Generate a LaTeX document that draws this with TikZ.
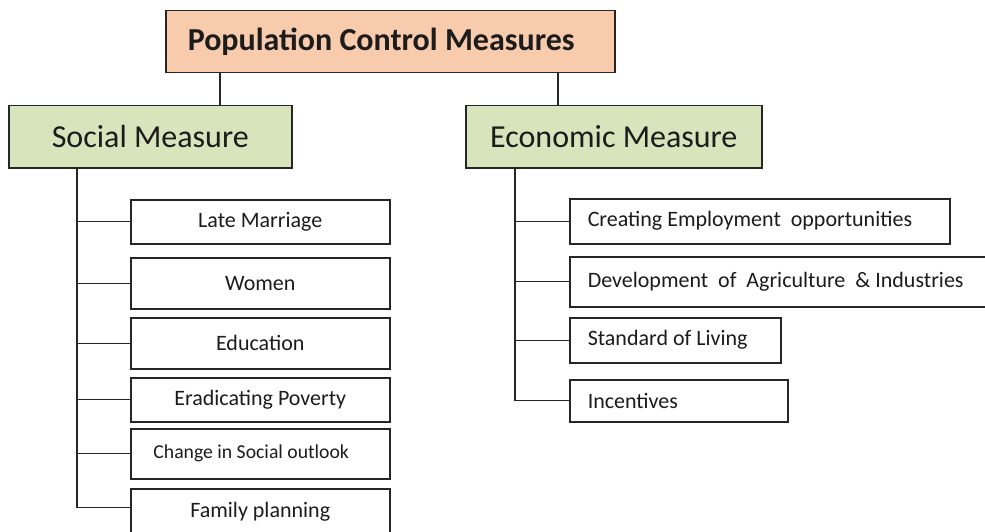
\documentclass[tikz,border=0pt]{standalone}
\usepackage{fontspec}
\setmainfont{Carlito}
\usepackage{xcolor}
\usepackage{tikz}
\usetikzlibrary{shapes,arrows,positioning}

\definecolor{peach}{HTML}{F8CBAD}
\definecolor{sage}{HTML}{D8E4BC}
\definecolor{edge}{HTML}{262626}
\definecolor{ink}{HTML}{1C1C1C}

\begin{document}
\begin{tikzpicture}[
    x=1pt, y=-1pt,
    box/.style={draw=edge, rectangle, line width=1.5pt, text=ink, anchor=north west, inner ysep=0pt},
    headbox/.style={box, fill=peach, minimum height=62pt, inner xsep=22pt,
        font=\bfseries\fontsize{32}{34}\selectfont},
    groupbox/.style={box, fill=sage, minimum height=62pt, font=\fontsize{32}{34}\selectfont},
    leftitem/.style={box, fill=white, minimum width=259pt, align=center,
        font=\fontsize{22}{24}\selectfont},
    rightitem/.style={box, fill=white, inner xsep=18pt,
        font=\fontsize{22}{24}\selectfont},
    link/.style={draw=edge, line width=1.3pt}
]
    \useasboundingbox (0,0) rectangle (985,532);
    \clip (0,0) rectangle (985,532);

    % Header
    \node[headbox, minimum width=449pt] (pcm) at (165,10)
        {\makebox[405pt][l]{Population Control Measures}};

    % Two groups
    \node[groupbox, minimum width=283pt, align=center] (social) at (8,105) {Social Measure};
    \node[groupbox, minimum width=296pt, align=center] (economic) at (465,105) {Economic Measure};

    \coordinate (ltap) at (220,0);
    \coordinate (rtap) at (558,0);
    \draw[link] (pcm.south -| ltap) -- (social.north -| ltap);
    \draw[link] (pcm.south -| rtap) -- (economic.north -| rtap);

    % Social measures
    \node[leftitem, minimum height=44pt] (late) at (130,199) {Late Marriage};
    \node[leftitem, minimum height=51pt] (women) at (130,257) {Women};
    \node[leftitem, minimum height=51pt] (edu) at (130,317) {Education};
    \node[leftitem, minimum height=44pt] (poverty) at (130,377) {Eradicating Poverty};
    \node[leftitem, minimum height=50pt, font=\fontsize{19.7}{22}\selectfont] (outlook) at (130,428)
        {Change in Social outlook\hspace*{18pt}};
    \node[leftitem, minimum height=46pt] (family) at (130,488) {Family planning};

    \coordinate (lspine) at (77,0);
    \draw[link] (social.south -| lspine) |- ([yshift=4pt]family.west);
    \foreach \n in {late,women,edu,poverty,outlook}
        \draw[link] (lspine |- \n.west) -- (\n.west);

    % Economic measures
    \node[rightitem, minimum height=45pt] (jobs) at (569,198)
        {\makebox[344pt][l]{Creating Employment\ \ opportunities}};
    \node[rightitem, minimum height=50pt] (develop) at (569,256)
        {\makebox[394pt][l]{Development\ \ of\ \ Agriculture\ \ \&\ Industries}};
    \node[rightitem, minimum height=45pt] (living) at (569,317)
        {\makebox[175pt][l]{Standard of Living}};
    \node[rightitem, minimum height=42pt] (incent) at (569,379)
        {\makebox[182pt][l]{Incentives}};

    \coordinate (rspine) at (515,0);
    \draw[link] (economic.south -| rspine) |- (incent.west);
    \foreach \n in {jobs,develop,living}
        \draw[link] (rspine |- \n.west) -- (\n.west);
\end{tikzpicture}
\end{document}
